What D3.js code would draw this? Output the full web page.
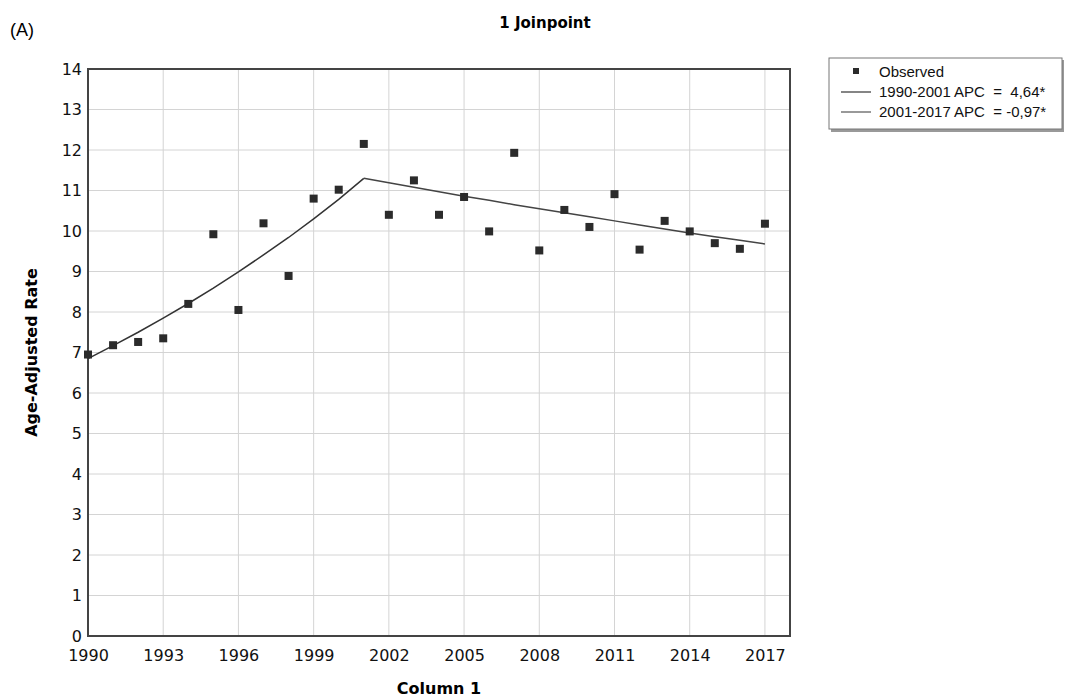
<!DOCTYPE html>
<html>
<head>
<meta charset="utf-8">
<script src="https://cdn.jsdelivr.net/npm/d3@7"></script>
<style>
  body { margin: 0; background: #fff; }
  svg { display: block; }
  .legend-text { white-space: pre; }
</style>
</head>
<body>
<svg id="chart" width="1066" height="699"></svg>
<script>
// observed age-adjusted rates
var years = [1990, 1991, 1992, 1993, 1994, 1995, 1996, 1997, 1998, 1999, 2000, 2001, 2002, 2003,
  2004, 2005, 2006, 2007, 2008, 2009, 2010, 2011, 2012, 2013, 2014, 2015, 2016, 2017];
var observed = [6.95, 7.18, 7.26, 7.35, 8.20, 9.92, 8.05, 10.19, 8.89, 10.80, 11.02, 12.15, 10.40, 11.25,
  10.40, 10.84, 9.99, 11.93, 9.52, 10.52, 10.10, 10.91, 9.54, 10.25, 9.99, 9.70, 9.56, 10.18];

// joinpoint fitted values
var seg1Years = [1990, 1991, 1992, 1993, 1994, 1995, 1996, 1997, 1998, 1999, 2000, 2001];
var seg1Fit = [6.85, 7.17, 7.50, 7.85, 8.21, 8.59, 8.99, 9.41, 9.84, 10.30, 10.78, 11.30];
var seg2Years = [2001, 2002, 2003, 2004, 2005, 2006, 2007, 2008, 2009, 2010, 2011, 2012, 2013, 2014, 2015, 2016, 2017];
var seg2Fit = [11.30, 11.19, 11.08, 10.97, 10.86, 10.76, 10.65, 10.55, 10.45, 10.35, 10.25, 10.15, 10.05, 9.95, 9.86, 9.77, 9.68];

var xTicks = [1990, 1993, 1996, 1999, 2002, 2005, 2008, 2011, 2014, 2017];
var yTicks = [0, 1, 2, 3, 4, 5, 6, 7, 8, 9, 10, 11, 12, 13, 14];
var legendLabels = ["Observed", "1990-2001 APC  =  4,64*", "2001-2017 APC  = -0,97*"];

var margin = { top: 69, right: 276, bottom: 63, left: 88 },
  width = 1066 - margin.left - margin.right,
  height = 699 - margin.top - margin.bottom;

var svg = d3.select("#chart");
var g = svg.append("g")
  .attr("transform", "translate(" + margin.left + "," + margin.top + ")");

var x = d3.scaleLinear().domain([1990, 2018]).range([0, width]);
var y = d3.scaleLinear().domain([0, 14]).range([height, 0]);

var tickFont = "'DejaVu Sans', Verdana, sans-serif";

// grid
g.append("g").selectAll("line")
  .data(yTicks.slice(1))
  .enter().append("line")
  .attr("x1", 0).attr("x2", width)
  .attr("y1", d => y(d)).attr("y2", d => y(d))
  .attr("stroke", "#d4d4d4").attr("stroke-width", 1);

g.append("g").selectAll("line")
  .data(xTicks.slice(1))
  .enter().append("line")
  .attr("x1", d => x(d)).attr("x2", d => x(d))
  .attr("y1", 0).attr("y2", height)
  .attr("stroke", "#d4d4d4").attr("stroke-width", 1);

// axes
var yAxis = g.append("g").call(d3.axisLeft(y).tickValues(yTicks).tickSize(0).tickPadding(6));
var xAxis = g.append("g").attr("transform", "translate(0," + height + ")")
  .call(d3.axisBottom(x).tickValues(xTicks).tickFormat(d3.format("d")).tickSize(0).tickPadding(14));
[yAxis, xAxis].forEach(function (a) {
  a.select(".domain").remove();
  a.selectAll("text").attr("font-family", tickFont).attr("font-size", 16).attr("fill", "#111");
});

// frame
g.append("rect")
  .attr("x", 0).attr("y", 0).attr("width", width).attr("height", height)
  .attr("fill", "none").attr("stroke", "#444").attr("stroke-width", 2);

// fitted lines
var line = d3.line().x(d => x(d[0])).y(d => y(d[1]));
g.append("path")
  .datum(d3.zip(seg1Years, seg1Fit))
  .attr("fill", "none").attr("stroke", "#333").attr("stroke-width", 1.5)
  .attr("d", line);
g.append("path")
  .datum(d3.zip(seg2Years, seg2Fit))
  .attr("fill", "none").attr("stroke", "#444").attr("stroke-width", 1.5)
  .attr("d", line);

// observed points
g.append("g").selectAll("rect")
  .data(d3.zip(years, observed))
  .enter().append("rect")
  .attr("x", d => x(d[0]) - 4).attr("y", d => y(d[1]) - 4)
  .attr("width", 8).attr("height", 8)
  .attr("fill", "#2b2b2b");

// titles
svg.append("text")
  .attr("x", 10).attr("y", 36)
  .attr("font-family", "'Liberation Sans', Arial, sans-serif").attr("font-size", 18)
  .text("(A)");

svg.append("text")
  .attr("x", 545).attr("y", 28)
  .attr("text-anchor", "middle")
  .attr("font-family", tickFont).attr("font-size", 15).attr("font-weight", "bold")
  .text("1 Joinpoint");

svg.append("text")
  .attr("transform", "translate(37," + (margin.top + height / 2) + ") rotate(-90)")
  .attr("text-anchor", "middle")
  .attr("font-family", tickFont).attr("font-size", 16).attr("font-weight", "bold")
  .text("Age-Adjusted Rate");

svg.append("text")
  .attr("x", margin.left + width / 2).attr("y", 694)
  .attr("text-anchor", "middle")
  .attr("font-family", tickFont).attr("font-size", 16).attr("font-weight", "bold")
  .text("Column 1");

// legend
var lg = svg.append("g").attr("transform", "translate(829,58)");
lg.append("rect")
  .attr("x", 2).attr("y", 2).attr("width", 233).attr("height", 72)
  .attr("fill", "#999");
lg.append("rect")
  .attr("x", 0).attr("y", 0).attr("width", 233).attr("height", 71)
  .attr("fill", "#fff").attr("stroke", "#777").attr("stroke-width", 1);

var rows = lg.selectAll("g.row")
  .data(legendLabels)
  .enter().append("g")
  .attr("class", "row")
  .attr("transform", (d, i) => "translate(0," + (14 + i * 20) + ")");

rows.filter((d, i) => i === 0).append("rect")
  .attr("x", 24).attr("y", -4).attr("width", 6).attr("height", 6)
  .attr("fill", "#2b2b2b");
rows.filter((d, i) => i > 0).append("line")
  .attr("x1", 12).attr("x2", 42).attr("y1", 0).attr("y2", 0)
  .attr("stroke", (d, i) => i === 0 ? "#333" : "#555").attr("stroke-width", 1.2);
rows.append("text")
  .attr("class", "legend-text")
  .attr("x", 50).attr("y", 0).attr("dy", "0.35em")
  .attr("font-family", "'Liberation Sans', Arial, sans-serif").attr("font-size", 15)
  .attr("fill", "#111")
  .text(d => d);
</script>
</body>
</html>
